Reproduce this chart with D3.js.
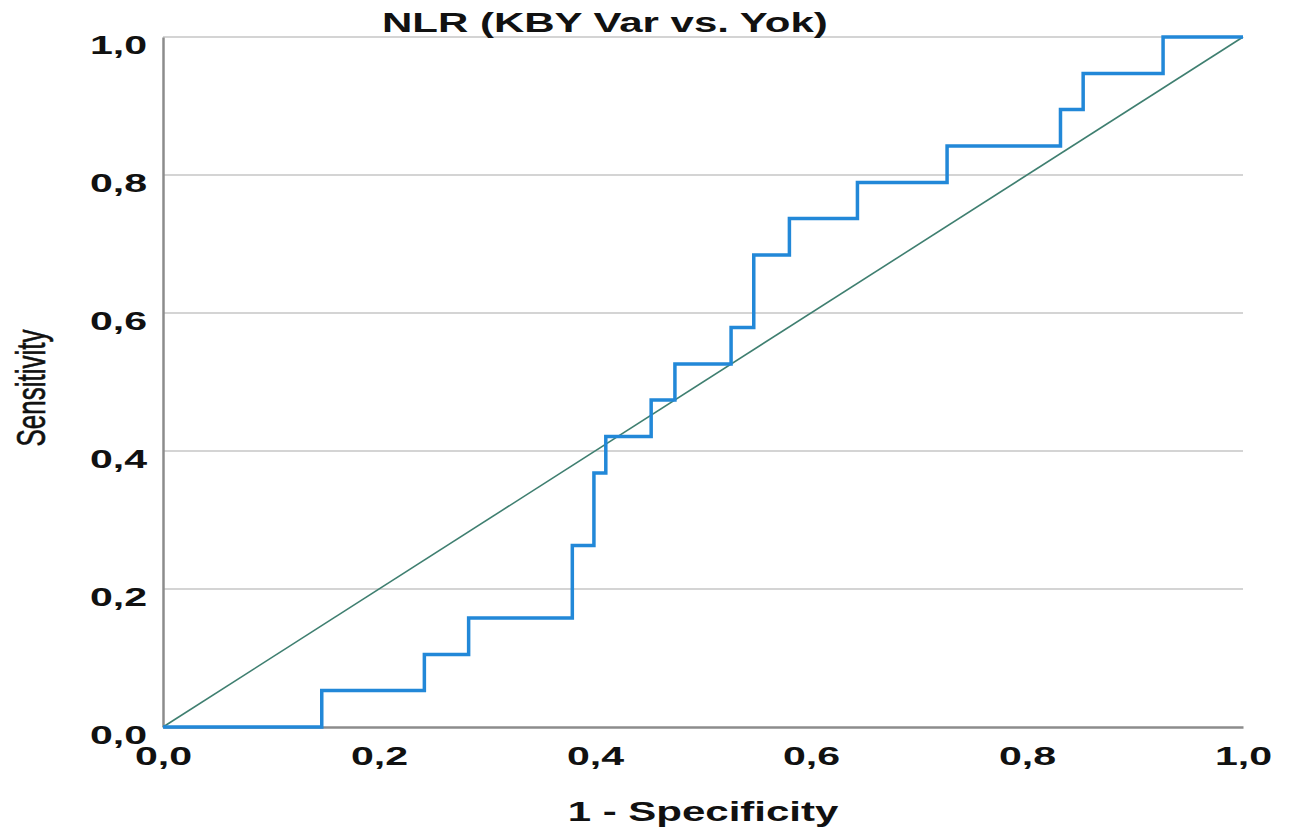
<!DOCTYPE html>
<html>
<head>
<meta charset="utf-8">
<script src="https://cdn.jsdelivr.net/npm/d3@7"></script>
<style>
  body { margin: 0; background: #fff; }
  svg { display: block; }
</style>
</head>
<body>
<svg id="chart" width="1296" height="839"></svg>
<script>
// ROC curve: 1 - specificity and sensitivity at each step
let fpr = [0, 0.147, 0.242, 0.283, 0.379, 0.399, 0.410, 0.452, 0.474, 0.526, 0.547, 0.580, 0.643, 0.726, 0.831, 0.852, 0.926, 1.0];
let tpr = [0, 0.053, 0.105, 0.158, 0.263, 0.368, 0.421, 0.474, 0.526, 0.579, 0.684, 0.737, 0.789, 0.842, 0.895, 0.947, 1.0, 1.0];
let refLine = [0, 1];
let xTicks = [0, 0.2, 0.4, 0.6, 0.8, 1.0];
let yTicks = [0, 0.2, 0.4, 0.6, 0.8, 1.0];
let title = "NLR (KBY Var vs. Yok)";
let xLabel = "1 - Specificity";
let yLabel = "Sensitivity";

// the source picture is stretched sideways, so text gets the same stretch
let stretch = 1.55;
let font = "'Liberation Sans', Arial, sans-serif";

let margin = { top: 37, right: 53, bottom: 112, left: 163 };
let svg = d3.select("#chart");
let width = 1296 - margin.left - margin.right;
let height = 839 - margin.top - margin.bottom;

let x = d3.scaleLinear().domain([0, 1]).range([0, width]);
let y = d3.scaleLinear().domain([0, 1]).range([height, 0]);

let g = svg.append("g")
    .attr("transform", "translate(" + margin.left + "," + margin.top + ")");

// horizontal gridlines
g.append("g")
    .selectAll("line")
    .data(yTicks.filter(function(d) { return d > 0; }))
    .enter().append("line")
    .attr("x1", 0)
    .attr("x2", width)
    .attr("y1", function(d) { return y(d); })
    .attr("y2", function(d) { return y(d); })
    .attr("stroke", "#d4d4d4")
    .attr("stroke-width", 2);

let fmt = function(d) { return d3.format(".1f")(d).replace(".", ","); };

let xAxis = g.append("g")
    .attr("transform", "translate(0," + height + ")")
    .call(d3.axisBottom(x).tickValues(xTicks).tickFormat(fmt).tickSize(0));
let yAxis = g.append("g")
    .call(d3.axisLeft(y).tickValues(yTicks).tickFormat(fmt).tickSize(0));

[xAxis, yAxis].forEach(function(a) {
    a.select(".domain").attr("stroke", "#8c8c8c").attr("stroke-width", 2.5);
    a.selectAll("text")
        .attr("fill", "#111")
        .attr("transform", "scale(" + stretch + ",1)")
        .style("font-family", font)
        .style("font-weight", "bold")
        .style("font-size", "26.5px");
});
xAxis.selectAll("text").attr("y", 38).attr("dy", null);
yAxis.selectAll("text").attr("x", -16 / stretch).attr("y", 16).attr("dy", null);

// diagonal reference line
g.append("line")
    .attr("x1", x(refLine[0]))
    .attr("y1", y(refLine[0]))
    .attr("x2", x(refLine[1]))
    .attr("y2", y(refLine[1]))
    .attr("stroke", "#3f7f70")
    .attr("stroke-width", 1.6);

// ROC step line
let points = fpr.map(function(d, i) { return [d, tpr[i]]; });
let line = d3.line()
    .x(function(d) { return x(d[0]); })
    .y(function(d) { return y(d[1]); })
    .curve(d3.curveStepAfter);

g.append("path")
    .datum(points)
    .attr("fill", "none")
    .attr("stroke", "#2288d8")
    .attr("stroke-width", 3.5)
    .attr("stroke-linejoin", "miter")
    .attr("d", line);

svg.append("text")
    .attr("transform", "translate(382,32) scale(1.5,1)")
    .attr("fill", "#111")
    .style("font-family", font)
    .style("font-weight", "bold")
    .style("font-size", "28px")
    .text(title);

svg.append("text")
    .attr("transform", "translate(" + (margin.left + width / 2) + ",821) scale(1.5,1)")
    .attr("text-anchor", "middle")
    .attr("fill", "#111")
    .style("font-family", font)
    .style("font-weight", "bold")
    .style("font-size", "28px")
    .text(xLabel);

svg.append("text")
    .attr("transform", "translate(45,388) scale(" + stretch + ",1) rotate(-90)")
    .attr("text-anchor", "middle")
    .attr("fill", "#111")
    .style("font-family", font)
    .style("font-size", "26px")
    .style("stroke", "#111")
    .style("stroke-width", 0.4)
    .text(yLabel);
</script>
</body>
</html>
